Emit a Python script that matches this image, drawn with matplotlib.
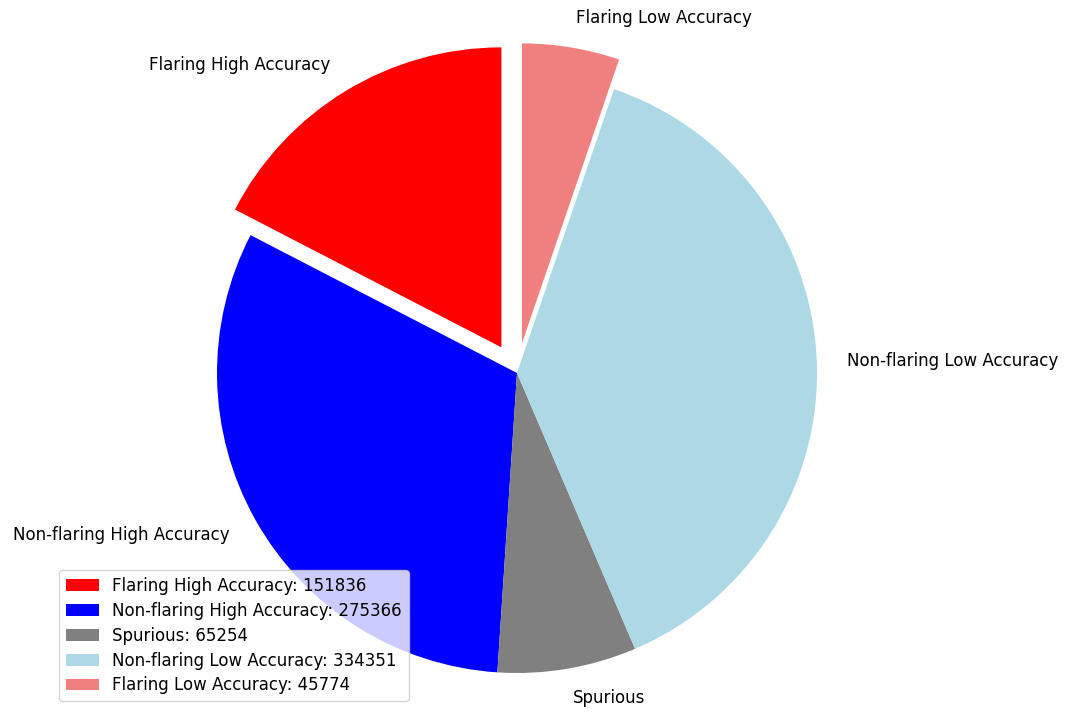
import matplotlib
matplotlib.use('Agg')
import matplotlib.pyplot as plt

# Pixel counts per class
labels = ['Flaring High Accuracy', 'Non-flaring High Accuracy', 'Spurious',
          'Non-flaring Low Accuracy', 'Flaring Low Accuracy']
counts = [151836, 275366, 65254, 334351, 45774]
colors = ['red', 'blue', 'grey', 'lightblue', 'lightcoral']
explode = [0.1, 0, 0, 0, 0.1]

plt.rcParams['font.size'] = 12

fig = plt.figure(figsize=(10.7, 7.13), dpi=100)
# square axes: pie radius ~300 px, centre at (517, 373) px
ax = fig.add_axes([142 / 1070, (713 - 373 - 375) / 713, 750 / 1070, 750 / 713])

wedges, texts = ax.pie(counts, labels=labels, colors=colors, explode=explode, startangle=90)
ax.set_xlim(-1.25, 1.25)
ax.set_ylim(-1.25, 1.25)

legend_labels = [f"{l}: {c}" for l, c in zip(labels, counts)]
ax.legend(wedges, legend_labels, loc='lower left', bbox_to_anchor=(59 / 1070, 12 / 713),
          bbox_transform=fig.transFigure, borderaxespad=0, labelspacing=0.41)

fig.savefig('out.png', dpi=100)
